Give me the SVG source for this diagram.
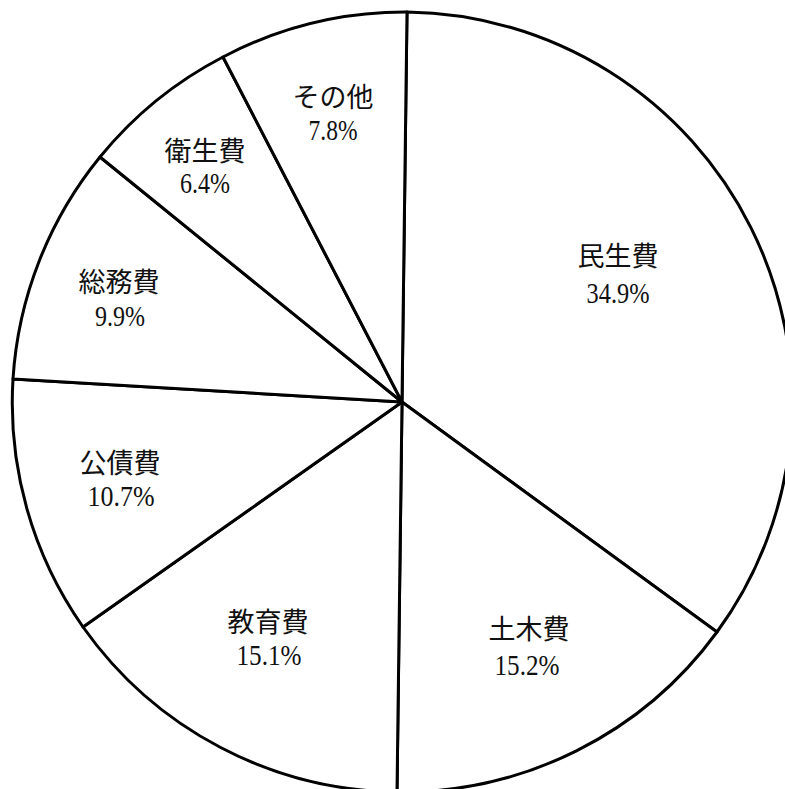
<svg xmlns="http://www.w3.org/2000/svg" width="785" height="789" viewBox="0 0 785 789">
<style>
.slice{fill:#fff;stroke:#000;stroke-width:3;stroke-linejoin:round}
.name{font-family:"Noto Sans CJK JP","Noto Sans CJK SC",sans-serif;font-size:27px;fill:#111;text-anchor:middle}
.pct{font-family:"Liberation Serif","DejaVu Serif",serif;font-size:30px;fill:#111;text-anchor:middle}
</style>
<rect width="785" height="789" fill="#fff"/>
<g id="slice-minsei">
<path class="slice" d="M402,402 L407,12 A390,390 0 0 1 717,632 Z"/>
<text class="name" x="618" y="266">民生費</text>
<text class="pct" x="618" y="303" textLength="63" lengthAdjust="spacingAndGlyphs">34.9%</text>
</g>
<g id="slice-doboku">
<path class="slice" d="M402,402 L717,632 A390,390 0 0 1 397,792 Z"/>
<text class="name" x="529" y="639">土木費</text>
<text class="pct" x="527" y="675" textLength="65" lengthAdjust="spacingAndGlyphs">15.2%</text>
</g>
<g id="slice-kyoiku">
<path class="slice" d="M402,402 L397,792 A390,390 0 0 1 83,627 Z"/>
<text class="name" x="268" y="632">教育費</text>
<text class="pct" x="269" y="665" textLength="65" lengthAdjust="spacingAndGlyphs">15.1%</text>
</g>
<g id="slice-kosai">
<path class="slice" d="M402,402 L83,627 A390,390 0 0 1 13,379 Z"/>
<text class="name" x="120" y="473">公債費</text>
<text class="pct" x="121" y="506" textLength="67" lengthAdjust="spacingAndGlyphs">10.7%</text>
</g>
<g id="slice-somu">
<path class="slice" d="M402,402 L13,379 A390,390 0 0 1 100,157 Z"/>
<text class="name" x="119" y="292">総務費</text>
<text class="pct" x="120" y="326" textLength="50" lengthAdjust="spacingAndGlyphs">9.9%</text>
</g>
<g id="slice-eisei">
<path class="slice" d="M402,402 L100,157 A390,390 0 0 1 223,57 Z"/>
<text class="name" x="205" y="161">衛生費</text>
<text class="pct" x="205" y="193" textLength="50" lengthAdjust="spacingAndGlyphs">6.4%</text>
</g>
<g id="slice-sonota">
<path class="slice" d="M402,402 L223,57 A390,390 0 0 1 407,12 Z"/>
<text class="name" x="333" y="107">その他</text>
<text class="pct" x="333" y="140" textLength="49" lengthAdjust="spacingAndGlyphs">7.8%</text>
</g>
</svg>
